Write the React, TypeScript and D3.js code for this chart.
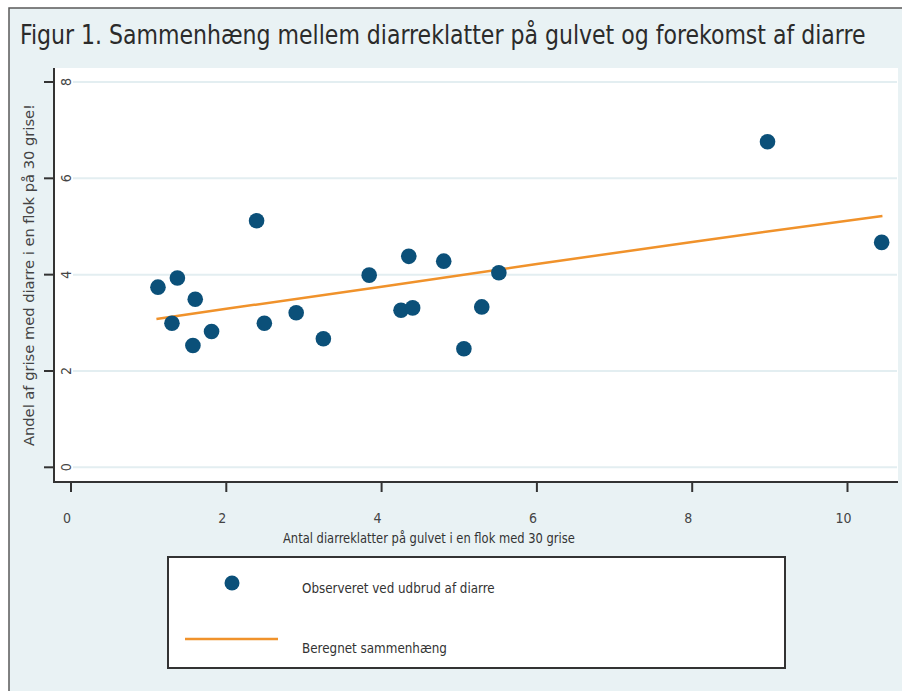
import { useEffect, useRef } from "react";
import * as d3 from "d3";

// observed herds: x = diarrhoea spots on the floor, y = pigs with diarrhoea
const obsX = [1.12, 1.37, 1.6, 1.3, 1.57, 1.81, 2.39, 2.49, 2.9, 3.25, 3.84, 4.25, 4.35, 4.4, 4.8, 5.06, 5.29, 5.51, 8.97, 10.44];
const obsY = [3.74, 3.93, 3.49, 2.99, 2.53, 2.82, 5.12, 2.99, 3.21, 2.67, 3.99, 3.26, 4.38, 3.31, 4.28, 2.46, 3.33, 4.04, 6.76, 4.67];

// fitted relation
const fitX = [1.1, 2, 4, 6, 8, 10.45];
const fitY = [3.08, 3.29, 3.75, 4.22, 4.68, 5.22];

const xTicks = [0, 2, 4, 6, 8, 10];
const yTicks = [0, 2, 4, 6, 8];

const title = "Figur 1. Sammenhæng mellem diarreklatter på gulvet og forekomst af diarre";
const xLabel = "Antal diarreklatter på gulvet i en flok med 30 grise";
const yLabel = "Andel af grise med diarre i en flok på 30 grise!";
const legendLabels = ["Observeret ved udbrud af diarre", "Beregnet sammenhæng"];

const W = 902;
const H = 691;
const BLUE = "#0b5079";
const ORANGE = "#f0922b";
const NARROW = "'Liberation Sans Narrow', 'DejaVu Sans Condensed', 'Roboto', sans-serif";

// squeeze a text horizontally to a given width (no condensed web fonts here)
const squeeze = (
  g: d3.Selection<SVGGElement, unknown, null, undefined>,
  width: number,
  tx: number,
  ty: number,
  rotate = 0
) => {
  const t = g.select<SVGTextElement>("text").node();
  const natural = t ? t.getComputedTextLength() : width;
  const k = natural > 0 ? width / natural : 1;
  g.attr("transform", `translate(${tx},${ty}) rotate(${rotate}) scale(${k},1)`);
};

const App = () => {
  const svgRef = useRef<SVGSVGElement>(null);

  useEffect(() => {
    document.body.style.margin = "0";
    const svg = d3.select(svgRef.current);
    svg.selectAll("*").remove();

    const plot = { left: 54, right: 898, top: 68, bottom: 482 };
    const x = d3.scaleLinear().domain([0, 10]).range([71, 847.5]);
    const y = d3.scaleLinear().domain([0, 8]).range([467.3, 82]);

    // background + outer frame
    svg.append("rect").attr("width", W).attr("height", H).attr("fill", "#ffffff");
    svg.append("rect").attr("x", 9).attr("y", 8).attr("width", W - 9).attr("height", H - 8).attr("fill", "#e9f2f4");
    svg.append("path").attr("d", `M9,${H}V8H${W}`).attr("fill", "none").attr("stroke", "#5a5a5a").attr("stroke-width", 1.5);

    const tg = svg.append("g");
    tg.append("text")
      .attr("font-family", NARROW).attr("font-size", 26).attr("fill", "#2b2b2b")
      .text(title);
    squeeze(tg, 846, 20, 44);

    // plot area
    svg.append("rect")
      .attr("x", plot.left).attr("y", plot.top)
      .attr("width", plot.right - plot.left).attr("height", plot.bottom - plot.top)
      .attr("fill", "#ffffff");

    svg.append("g").selectAll("line").data(yTicks).enter().append("line")
      .attr("x1", 73).attr("x2", 897)
      .attr("y1", (d) => y(d)).attr("y2", (d) => y(d))
      .attr("stroke", "#e3eef1").attr("stroke-width", 2);

    // y axis
    const yAxis = svg.append("g");
    yAxis.append("line").attr("x1", plot.left).attr("x2", plot.left).attr("y1", plot.top).attr("y2", plot.bottom + 1)
      .attr("stroke", "#333").attr("stroke-width", 2);
    yAxis.selectAll(".tk").data(yTicks).enter().append("line")
      .attr("x1", 44).attr("x2", plot.left)
      .attr("y1", (d) => y(d)).attr("y2", (d) => y(d))
      .attr("stroke", "#333").attr("stroke-width", 2);
    yAxis.selectAll("text").data(yTicks).enter().append("text")
      .attr("transform", (d) => `translate(71,${y(d)}) rotate(-90)`)
      .attr("text-anchor", "middle")
      .attr("font-family", NARROW).attr("font-size", 14).attr("fill", "#444")
      .text((d) => d);

    // x axis
    const xAxis = svg.append("g");
    xAxis.append("line").attr("x1", plot.left - 1).attr("x2", plot.right).attr("y1", plot.bottom).attr("y2", plot.bottom)
      .attr("stroke", "#333").attr("stroke-width", 2);
    xAxis.selectAll(".tk").data(xTicks).enter().append("line")
      .attr("x1", (d) => x(d)).attr("x2", (d) => x(d))
      .attr("y1", plot.bottom).attr("y2", 492)
      .attr("stroke", "#333").attr("stroke-width", 2);
    xAxis.selectAll("text").data(xTicks).enter().append("text")
      .attr("x", (d) => x(d) - 4).attr("y", 523)
      .attr("text-anchor", "middle")
      .attr("font-family", NARROW).attr("font-size", 14).attr("fill", "#444")
      .text((d) => d);

    const xg = svg.append("g");
    xg.append("text")
      .attr("font-family", NARROW).attr("font-size", 14).attr("fill", "#333")
      .text(xLabel);
    squeeze(xg, 292, 283, 543);

    const yg = svg.append("g");
    yg.append("text")
      .attr("font-family", "'DejaVu Sans', sans-serif").attr("font-size", 14.5).attr("fill", "#444")
      .text(yLabel);
    squeeze(yg, 342, 34, 446, -90);

    // fitted line
    const line = d3.line<number>().x((d) => x(d)).y((_, i) => y(fitY[i]));
    svg.append("path").datum(fitX).attr("d", line)
      .attr("fill", "none").attr("stroke", ORANGE).attr("stroke-width", 2.5);

    // points
    svg.append("g").selectAll("circle").data(obsX).enter().append("circle")
      .attr("cx", (d) => x(d)).attr("cy", (_, i) => y(obsY[i]))
      .attr("r", 7.8).attr("fill", BLUE);

    // legend
    const lg = svg.append("g");
    lg.append("rect").attr("x", 168).attr("y", 557).attr("width", 617).attr("height", 111)
      .attr("fill", "#ffffff").attr("stroke", "#333").attr("stroke-width", 2);
    lg.append("circle").attr("cx", 232).attr("cy", 583).attr("r", 7.5).attr("fill", BLUE);
    lg.append("line").attr("x1", 185).attr("x2", 278).attr("y1", 639).attr("y2", 639)
      .attr("stroke", ORANGE).attr("stroke-width", 2.5);
    legendLabels.forEach((label, i) => {
      const g = lg.append("g");
      g.append("text")
        .attr("font-family", NARROW).attr("font-size", 14).attr("fill", "#333")
        .text(label);
      squeeze(g, i === 0 ? 193 : 145, 302, i === 0 ? 593 : 653);
    });
  }, []);

  return <svg ref={svgRef} width={W} height={H} style={{ display: "block" }} />;
};

export default App;
